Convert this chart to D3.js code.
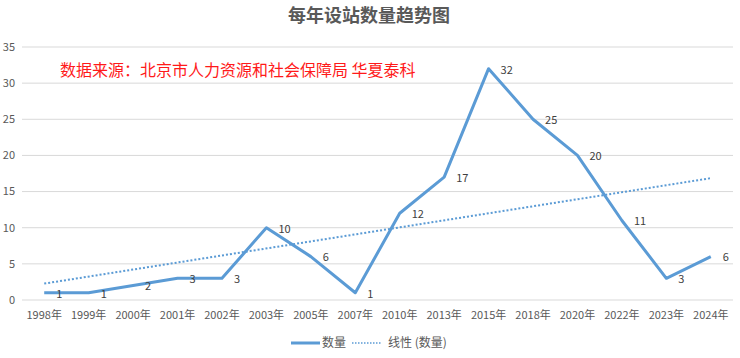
<!DOCTYPE html>
<meta charset="utf-8">
<script src="https://d3js.org/d3.v7.min.js"></script>
<style>
  body { margin: 0; background: #fff; }
  text { font-family: "Noto Sans CJK SC", "Noto Sans", sans-serif; }
</style>
<div id="chart"></div>
<script>
  // data
  const years = ["1998年", "1999年", "2000年", "2001年", "2002年", "2003年", "2005年", "2007年",
    "2010年", "2013年", "2015年", "2018年", "2020年", "2022年", "2023年", "2024年"];
  const counts = [1, 1, 2, 3, 3, 10, 6, 1, 12, 17, 32, 25, 20, 11, 3, 6];
  const yTicks = [0, 5, 10, 15, 20, 25, 30, 35];

  const width = 740, height = 358;
  const plotLeft = 22, plotRight = 733, plotTop = 47, plotBottom = 300;
  const blue = "#5B9BD5";

  const svg = d3.select("#chart").append("svg")
    .attr("width", width)
    .attr("height", height);

  const x = d3.scaleBand().domain(years).range([plotLeft, plotRight]);
  const y = d3.scaleLinear().domain([0, 35]).range([plotBottom, plotTop]);
  const cx = d => x(d) + x.bandwidth() / 2;

  // gridlines
  svg.append("g")
    .selectAll("line")
    .data(yTicks)
    .join("line")
    .attr("x1", plotLeft).attr("x2", plotRight)
    .attr("y1", d => y(d)).attr("y2", d => y(d))
    .attr("stroke", "#d9d9d9")
    .attr("stroke-width", 1);

  // y labels
  svg.append("g")
    .selectAll("text")
    .data(yTicks)
    .join("text")
    .attr("x", 15)
    .attr("y", d => y(d))
    .attr("dy", "0.35em")
    .attr("text-anchor", "end")
    .attr("font-size", 11)
    .attr("fill", "#595959")
    .text(d => d);

  // x labels
  svg.append("g")
    .selectAll("text")
    .data(years)
    .join("text")
    .attr("x", d => cx(d))
    .attr("y", 315)
    .attr("dy", "0.35em")
    .attr("text-anchor", "middle")
    .attr("font-size", 11)
    .attr("fill", "#595959")
    .text(d => d);

  // linear trendline (least squares on category index)
  const n = counts.length;
  const xs = d3.range(1, n + 1);
  const mx = d3.mean(xs), my = d3.mean(counts);
  const slope = d3.sum(xs, (v, i) => (v - mx) * (counts[i] - my)) / d3.sum(xs, v => (v - mx) * (v - mx));
  const icpt = my - slope * mx;
  svg.append("line")
    .attr("x1", cx(years[0])).attr("y1", y(icpt + slope * 1))
    .attr("x2", cx(years[n - 1])).attr("y2", y(icpt + slope * n))
    .attr("stroke", blue)
    .attr("stroke-width", 2)
    .attr("stroke-dasharray", "2,2");

  // main line
  const line = d3.line()
    .x((d, i) => cx(years[i]))
    .y(d => y(d));
  svg.append("path")
    .datum(counts)
    .attr("d", line)
    .attr("fill", "none")
    .attr("stroke", blue)
    .attr("stroke-width", 3)
    .attr("stroke-linejoin", "round");

  // data labels, right of each point
  svg.append("g")
    .selectAll("text")
    .data(counts)
    .join("text")
    .attr("x", (d, i) => cx(years[i]) + 12)
    .attr("y", d => y(d) + 1)
    .attr("dy", "0.35em")
    .attr("font-size", 11)
    .attr("fill", "#404040")
    .text(d => d);

  // title
  svg.append("text")
    .attr("x", 369)
    .attr("y", 16)
    .attr("dy", "0.35em")
    .attr("text-anchor", "middle")
    .attr("font-size", 18)
    .attr("font-weight", "bold")
    .attr("fill", "#595959")
    .text("每年设站数量趋势图");

  // source note
  svg.append("text")
    .attr("x", 60)
    .attr("y", 70)
    .attr("dy", "0.35em")
    .attr("font-size", 16)
    .attr("fill", "#ff1a1a")
    .text("数据来源：北京市人力资源和社会保障局 华夏泰科");

  // legend
  const lg = svg.append("g");
  lg.append("line")
    .attr("x1", 291).attr("x2", 320).attr("y1", 343).attr("y2", 343)
    .attr("stroke", blue).attr("stroke-width", 3);
  lg.append("text")
    .attr("x", 322).attr("y", 343).attr("dy", "0.35em")
    .attr("font-size", 12).attr("fill", "#595959")
    .text("数量");
  lg.append("line")
    .attr("x1", 352).attr("x2", 381).attr("y1", 343).attr("y2", 343)
    .attr("stroke", blue).attr("stroke-width", 1.5).attr("stroke-dasharray", "1.5,1.5");
  lg.append("text")
    .attr("x", 388).attr("y", 343).attr("dy", "0.35em")
    .attr("font-size", 12).attr("fill", "#595959")
    .text("线性 (数量)");
</script>
